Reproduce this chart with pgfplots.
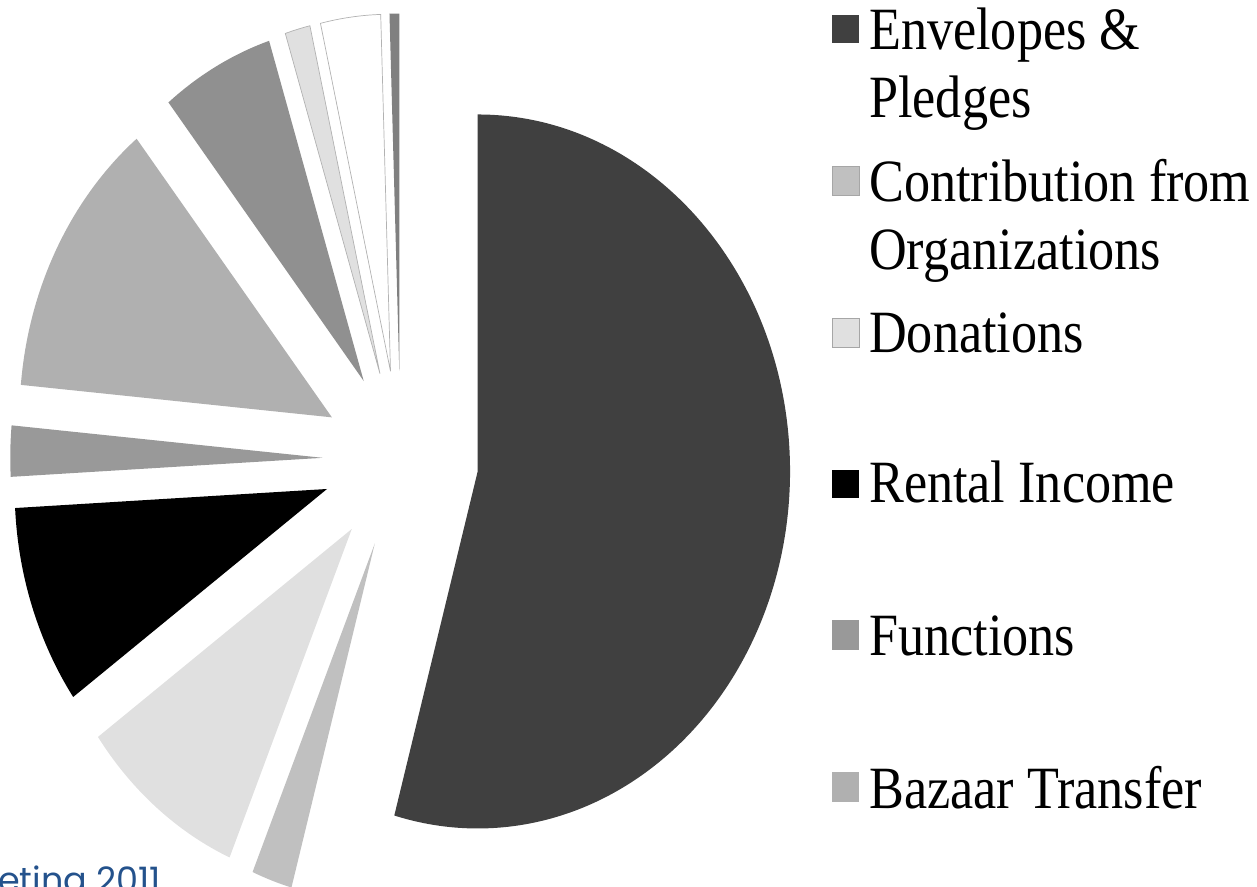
\documentclass[border=0pt]{standalone}
\usepackage{pgfplots}
\pgfplotsset{compat=1.18}
\usepackage{pgfplotstable}
\usepackage{fontspec}
\setmainfont[FakeStretch=0.87]{Liberation Serif}
\newfontfamily\blfont{Poppins}
\definecolor{blueTxt}{RGB}{36,82,140}

\pgfplotstableread{
name value gray
Envelopes 54.3 64
Contribution 2.1 192
Donations 8.7 224
Rental 9.05 0
Functions 2.3 153
Bazaar 12.8 176
Other1 5.85 144
Other2 1.3 224
Other3 3.1 255
Other4 0.5 128
}\piedata

\newcommand\legfont{\fontsize{60}{68}\selectfont}

\begin{document}
\begin{tikzpicture}
\def\cum{0}
\foreach \i in {0,...,9}{
 \pgfplotstablegetelem{\i}{value}\of\piedata
 \pgfmathsetmacro\v{\pgfplotsretval}
 \pgfmathsetmacro\aA{90-3.6*\cum}
 \pgfmathsetmacro\aB{90-3.6*(\cum+\v)}
 \pgfmathsetmacro\aM{(\aA+\aB)/2}
 \pgfmathsetmacro\apx{400.5+0.875*89*cos(\aM)}
 \pgfmathsetmacro\apy{426.5+89*sin(\aM)}
 \pgfmathsetmacro\stx{\apx+0.875*357*cos(\aA)}
 \pgfmathsetmacro\sty{\apy+357*sin(\aA)}
 \expandafter\xdef\csname pieAX\i\endcsname{\apx}
 \expandafter\xdef\csname pieAY\i\endcsname{\apy}
 \expandafter\xdef\csname pieSX\i\endcsname{\stx}
 \expandafter\xdef\csname pieSY\i\endcsname{\sty}
 \expandafter\xdef\csname pieA\i\endcsname{\aA}
 \expandafter\xdef\csname pieB\i\endcsname{\aB}
 \pgfmathsetmacro\nc{\cum+\v}
 \xdef\cum{\nc}
 \pgfplotstablegetelem{\i}{gray}\of\piedata
 \edef\tmp{\noexpand\xglobal\noexpand\definecolor{slice\i}{RGB}{\pgfplotsretval,\pgfplotsretval,\pgfplotsretval}}\tmp
}
\begin{axis}[name=ax, hide axis, x=1pt, y=1pt, xmin=0, xmax=1257, ymin=0, ymax=886, clip=false]
\pgfplotsinvokeforeach{0,...,9}{
  \fill[slice#1] (axis cs:\csname pieAX#1\endcsname,\csname pieAY#1\endcsname) -- (axis cs:\csname pieSX#1\endcsname,\csname pieSY#1\endcsname) arc[start angle=\csname pieA#1\endcsname, end angle=\csname pieB#1\endcsname, x radius=312.375pt, y radius=357pt] -- cycle;
}
\pgfplotsinvokeforeach{7,8}{
  \draw[black!30, line width=0.7pt] (axis cs:\csname pieAX#1\endcsname,\csname pieAY#1\endcsname) -- (axis cs:\csname pieSX#1\endcsname,\csname pieSY#1\endcsname) arc[start angle=\csname pieA#1\endcsname, end angle=\csname pieB#1\endcsname, x radius=312.375pt, y radius=357pt] -- cycle;
}
% legend
\fill[slice0] (axis cs:832,871) rectangle (axis cs:859,843);
\node[anchor=base west, inner sep=0, font=\legfont] at (axis cs:869,836) {Envelopes \&};
\node[anchor=base west, inner sep=0, font=\legfont] at (axis cs:869,768) {Pledges};
\filldraw[fill=slice1, draw=black!35, line width=0.5pt] (axis cs:832,720) rectangle (axis cs:859,691);
\node[anchor=base west, inner sep=0, font=\legfont] at (axis cs:869,684) {Contribution from};
\node[anchor=base west, inner sep=0, font=\legfont] at (axis cs:869,616) {Organizations};
\filldraw[fill=slice2, draw=black!35, line width=0.5pt] (axis cs:832,568) rectangle (axis cs:859,539);
\node[anchor=base west, inner sep=0, font=\legfont] at (axis cs:869,533) {Donations};
\fill[slice3] (axis cs:832,416) rectangle (axis cs:859,388);
\node[anchor=base west, inner sep=0, font=\legfont] at (axis cs:869,383) {Rental Income};
\fill[slice4] (axis cs:832,266) rectangle (axis cs:859,236);
\node[anchor=base west, inner sep=0, font=\legfont] at (axis cs:869,230) {Functions};
\fill[slice5] (axis cs:832,114) rectangle (axis cs:859,84);
\node[anchor=base west, inner sep=0, font=\legfont] at (axis cs:869,78) {Bazaar Transfer};
\node[anchor=base west, inner sep=0, font=\blfont\fontsize{35}{35}\selectfont, text=blueTxt] at (axis cs:-2,-6) {eting 2011};
\end{axis}
\pgfresetboundingbox
\path[use as bounding box] (ax.south west) rectangle (ax.north east);
\end{tikzpicture}
\end{document}
